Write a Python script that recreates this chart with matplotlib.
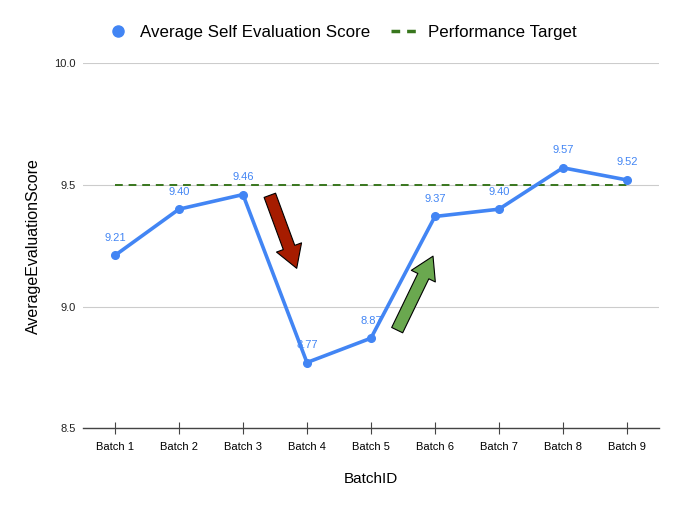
import matplotlib.pyplot as plt
from matplotlib.lines import Line2D

plt.rcParams['font.family'] = ['Liberation Sans', 'DejaVu Sans']

batches = ["Batch 1", "Batch 2", "Batch 3", "Batch 4", "Batch 5",
           "Batch 6", "Batch 7", "Batch 8", "Batch 9"]
scores = [9.21, 9.40, 9.46, 8.77, 8.87, 9.37, 9.40, 9.57, 9.52]
target = [9.5] * len(batches)

blue = "#4285F4"
green = "#38761D"

fig = plt.figure(figsize=(6.8, 5.05), dpi=100)
ax = fig.add_axes([0.122, 0.152, 0.847, 0.723])
x = list(range(len(batches)))

ax.plot(x, target, color=green, linestyle=(0, (4, 3)), linewidth=1.4, zorder=2)
ax.plot(x, scores, color=blue, linewidth=2.6, marker="o", markersize=5.5, zorder=3)
for xi, v in zip(x, scores):
    ax.annotate(f"{v:.2f}", (xi, v), xytext=(0, 9), textcoords="offset points",
                ha="center", va="bottom", color=blue, fontsize=8)

# trend arrows
style = "simple,head_width=1.2,head_length=1.0,tail_width=0.55"
ax.annotate("", xy=(2.84, 9.157), xytext=(2.42, 9.457),
            arrowprops=dict(arrowstyle=style, fc="#A61C00", ec="black", lw=0.8,
                            mutation_scale=16, shrinkA=0, shrinkB=0), zorder=4)
ax.annotate("", xy=(4.97, 9.207), xytext=(4.41, 8.903),
            arrowprops=dict(arrowstyle=style, fc="#6AA84F", ec="black", lw=0.8,
                            mutation_scale=16, shrinkA=0, shrinkB=0), zorder=4)

ax.set_xlim(-0.5, 8.5)
ax.set_ylim(8.5, 10.0)
ax.set_yticks([8.5, 9.0, 9.5, 10.0])
ax.set_yticklabels(["8.5", "9.0", "9.5", "10.0"])
ax.set_xticks(x)
ax.set_xticklabels(batches)
ax.tick_params(axis="y", length=0, labelsize=8, pad=5, colors="#222222")
ax.tick_params(axis="x", direction="inout", length=8, width=0.8, color="#444444",
               labelsize=8, pad=6)
ax.grid(axis="y", color="#CCCCCC", linewidth=0.8)
ax.set_axisbelow(True)
for s in ["top", "right", "left"]:
    ax.spines[s].set_visible(False)
ax.spines["bottom"].set_color("#444444")
ax.spines["bottom"].set_linewidth(1.0)

ax.set_xlabel("BatchID", fontsize=11, labelpad=14)
ax.set_ylabel("AverageEvaluationScore", fontsize=11.5, labelpad=10)

handles = [
    Line2D([], [], color=blue, marker="o", linestyle="none", markersize=8),
    Line2D([], [], color=green, linestyle=(0, (2.5, 2)), linewidth=2.5),
]
fig.legend(handles, ["Average Self Evaluation Score", "Performance Target"],
           loc="center", bbox_to_anchor=(0.5, 0.935), ncol=2, frameon=False,
           fontsize=12.2, handlelength=1.8, handletextpad=0.4, columnspacing=1.2)

fig.savefig("out.png", dpi=100)
